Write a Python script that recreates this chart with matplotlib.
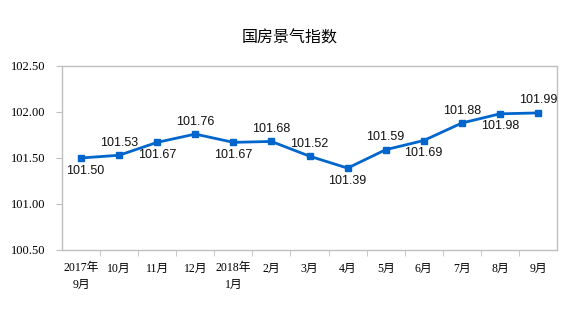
import matplotlib
matplotlib.use('Agg')
import matplotlib.pyplot as plt

months = ['2017年\n9月', '10月', '11月', '12月', '2018年\n1月', '2月', '3月',
          '4月', '5月', '6月', '7月', '8月', '9月']
values = [101.50, 101.53, 101.67, 101.76, 101.67, 101.68, 101.52,
          101.39, 101.59, 101.69, 101.88, 101.98, 101.99]
# label above (1) or below (-1) the point
label_side = [-1, 1, -1, 1, -1, 1, 1, -1, 1, -1, 1, -1, 1]
yticks = [100.50, 101.00, 101.50, 102.00, 102.50]

plt.rcParams['font.family'] = ['Liberation Sans', 'Noto Sans CJK SC']
tick_font = ['Liberation Serif', 'Noto Sans CJK SC']

fig = plt.figure(figsize=(5.8, 3.18), dpi=100)
ax = fig.add_axes([62 / 580, 1 - 250 / 318, 495 / 580, 184 / 318])

x = list(range(len(values)))
ax.plot(x, values, color='#0066CC', linewidth=2, marker='s', markersize=5)

for xi, v, side in zip(x, values, label_side):
    off = 9 if side > 0 else -9
    dx = 3 if xi == 0 else 0
    ax.annotate('%.2f' % v, (xi, v), xytext=(dx, off), textcoords='offset points',
                ha='center', va='center', fontsize=9, color='#111111')

ax.set_xlim(-0.5, len(values) - 0.5)
ax.set_ylim(100.5, 102.5)
ax.set_yticks(yticks)
ax.set_yticklabels(['%.2f' % t for t in yticks], family=tick_font, fontsize=9)
ax.set_xticks(x)
ax.set_xticklabels(months, family=tick_font, fontsize=8.5, linespacing=1.5, va='top')
ax.set_xticks([i + 0.5 for i in x[:-1]], minor=True)
ax.tick_params(axis='x', which='major', length=0, pad=9)
ax.tick_params(axis='x', which='minor', length=4, color='#BFBFBF', direction='out')
ax.tick_params(axis='y', length=4, color='#BFBFBF', direction='out', pad=8)

for s in ax.spines.values():
    s.set_color('#BFBFBF')
    s.set_linewidth(1)

fig.text(290 / 580, 1 - 38 / 318, '国房景气指数', ha='center', va='center',
         fontsize=11.5, family=['Noto Sans CJK SC'], fontweight='medium')

fig.savefig('out.png', dpi=100)
